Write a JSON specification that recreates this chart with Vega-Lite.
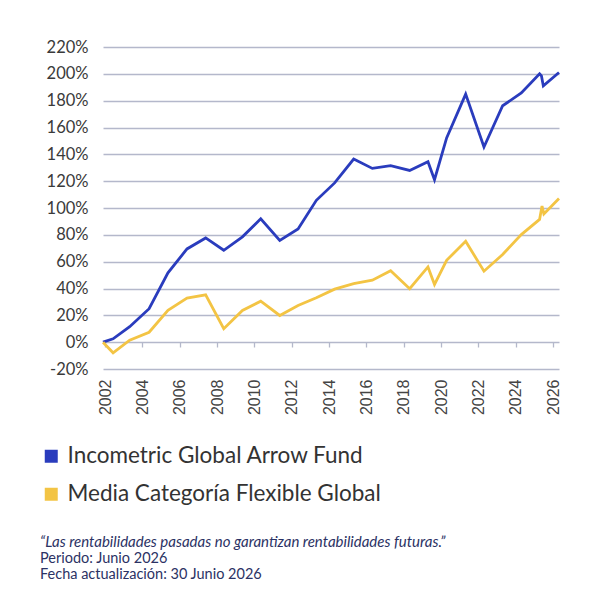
{
  "$schema": "https://vega.github.io/schema/vega-lite/v6.json",
  "description": "Rentabilidad acumulada: Incometric Global Arrow Fund frente a la media de su categoría",
  "autosize": {"type": "none"},
  "padding": {"left": 103, "top": 47, "right": 51, "bottom": 241},
  "width": 456,
  "height": 322,
  "background": "white",
  "data": {
    "values": [
      {"serie": "Incometric Global Arrow Fund", "year": 2001.89, "value": 0},
      {"serie": "Incometric Global Arrow Fund", "year": 2002.43, "value": 2.5},
      {"serie": "Incometric Global Arrow Fund", "year": 2003.32, "value": 11.5},
      {"serie": "Incometric Global Arrow Fund", "year": 2004.36, "value": 24.9},
      {"serie": "Incometric Global Arrow Fund", "year": 2005.37, "value": 51.7},
      {"serie": "Incometric Global Arrow Fund", "year": 2006.39, "value": 69.5},
      {"serie": "Incometric Global Arrow Fund", "year": 2007.39, "value": 77.7},
      {"serie": "Incometric Global Arrow Fund", "year": 2008.36, "value": 68.5},
      {"serie": "Incometric Global Arrow Fund", "year": 2009.36, "value": 78.5},
      {"serie": "Incometric Global Arrow Fund", "year": 2010.34, "value": 91.9},
      {"serie": "Incometric Global Arrow Fund", "year": 2011.36, "value": 75.9},
      {"serie": "Incometric Global Arrow Fund", "year": 2012.34, "value": 84.4},
      {"serie": "Incometric Global Arrow Fund", "year": 2013.32, "value": 105.7},
      {"serie": "Incometric Global Arrow Fund", "year": 2014.30, "value": 118.7},
      {"serie": "Incometric Global Arrow Fund", "year": 2015.32, "value": 136.5},
      {"serie": "Incometric Global Arrow Fund", "year": 2016.32, "value": 129.5},
      {"serie": "Incometric Global Arrow Fund", "year": 2017.30, "value": 131.5},
      {"serie": "Incometric Global Arrow Fund", "year": 2018.32, "value": 128},
      {"serie": "Incometric Global Arrow Fund", "year": 2019.30, "value": 134.5},
      {"serie": "Incometric Global Arrow Fund", "year": 2019.65, "value": 121.1},
      {"serie": "Incometric Global Arrow Fund", "year": 2020.30, "value": 152.2},
      {"serie": "Incometric Global Arrow Fund", "year": 2021.32, "value": 184.9},
      {"serie": "Incometric Global Arrow Fund", "year": 2022.30, "value": 145.5},
      {"serie": "Incometric Global Arrow Fund", "year": 2023.30, "value": 176.2},
      {"serie": "Incometric Global Arrow Fund", "year": 2024.30, "value": 185.7},
      {"serie": "Incometric Global Arrow Fund", "year": 2025.28, "value": 200},
      {"serie": "Incometric Global Arrow Fund", "year": 2025.38, "value": 198.5},
      {"serie": "Incometric Global Arrow Fund", "year": 2025.48, "value": 191},
      {"serie": "Incometric Global Arrow Fund", "year": 2026.32, "value": 201},
      {"serie": "Media Categoría Flexible Global", "year": 2001.89, "value": 0},
      {"serie": "Media Categoría Flexible Global", "year": 2002.43, "value": -7.9},
      {"serie": "Media Categoría Flexible Global", "year": 2003.32, "value": 1.5},
      {"serie": "Media Categoría Flexible Global", "year": 2004.36, "value": 7.4},
      {"serie": "Media Categoría Flexible Global", "year": 2005.37, "value": 23.8},
      {"serie": "Media Categoría Flexible Global", "year": 2006.39, "value": 32.8},
      {"serie": "Media Categoría Flexible Global", "year": 2007.39, "value": 35.3},
      {"serie": "Media Categoría Flexible Global", "year": 2008.36, "value": 10.0},
      {"serie": "Media Categoría Flexible Global", "year": 2009.36, "value": 23.6},
      {"serie": "Media Categoría Flexible Global", "year": 2010.34, "value": 30.5},
      {"serie": "Media Categoría Flexible Global", "year": 2011.36, "value": 19.9},
      {"serie": "Media Categoría Flexible Global", "year": 2012.34, "value": 27.3},
      {"serie": "Media Categoría Flexible Global", "year": 2013.32, "value": 33.1},
      {"serie": "Media Categoría Flexible Global", "year": 2014.30, "value": 39.5},
      {"serie": "Media Categoría Flexible Global", "year": 2015.32, "value": 43.7},
      {"serie": "Media Categoría Flexible Global", "year": 2016.32, "value": 46.2},
      {"serie": "Media Categoría Flexible Global", "year": 2017.30, "value": 53.2},
      {"serie": "Media Categoría Flexible Global", "year": 2018.32, "value": 39.8},
      {"serie": "Media Categoría Flexible Global", "year": 2019.30, "value": 56.1},
      {"serie": "Media Categoría Flexible Global", "year": 2019.65, "value": 43.0},
      {"serie": "Media Categoría Flexible Global", "year": 2020.30, "value": 61},
      {"serie": "Media Categoría Flexible Global", "year": 2021.32, "value": 75.2},
      {"serie": "Media Categoría Flexible Global", "year": 2022.30, "value": 52.9},
      {"serie": "Media Categoría Flexible Global", "year": 2023.30, "value": 65.3},
      {"serie": "Media Categoría Flexible Global", "year": 2024.30, "value": 80.2},
      {"serie": "Media Categoría Flexible Global", "year": 2025.28, "value": 91.5},
      {"serie": "Media Categoría Flexible Global", "year": 2025.41, "value": 101.5},
      {"serie": "Media Categoría Flexible Global", "year": 2025.51, "value": 95.6},
      {"serie": "Media Categoría Flexible Global", "year": 2026.32, "value": 107}
    ]
  },
  "title": {
    "text": "“Las rentabilidades pasadas no garantizan rentabilidades futuras.”",
    "subtitle": ["Periodo: Junio 2026", "Fecha actualización: 30 Junio 2026"],
    "orient": "bottom",
    "anchor": "start",
    "frame": "group",
    "dx": -63,
    "offset": 29,
    "font": "Lato",
    "fontStyle": "italic",
    "fontWeight": "normal",
    "fontSize": 15,
    "color": "#2b3264",
    "subtitleFont": "Lato",
    "subtitleFontSize": 14.5,
    "subtitleColor": "#2b3264",
    "subtitleLineHeight": 16,
    "subtitlePadding": 2
  },
  "mark": {"type": "line", "strokeWidth": 2.8, "strokeJoin": "miter", "clip": false},
  "encoding": {
    "x": {
      "field": "year",
      "type": "quantitative",
      "scale": {"domain": [2001.89, 2026.32], "nice": false, "zero": false},
      "axis": {
        "title": null,
        "values": [2002, 2004, 2006, 2008, 2010, 2012, 2014, 2016, 2018, 2020, 2022, 2024, 2026],
        "format": "d",
        "grid": false,
        "domain": false,
        "ticks": true,
        "tickSize": 5,
        "tickWidth": 1.3,
        "tickColor": "#b4b8cb",
        "offset": -27,
        "labelAngle": -90,
        "labelPadding": 32,
        "labelFont": "Liberation Sans",
        "labelFontSize": 16,
        "labelColor": "#444444"
      }
    },
    "y": {
      "field": "value",
      "type": "quantitative",
      "scale": {"domain": [-20, 220], "nice": false},
      "axis": {
        "title": null,
        "values": [-20, 0, 20, 40, 60, 80, 100, 120, 140, 160, 180, 200, 220],
        "labelExpr": "datum.value + '%'",
        "grid": true,
        "gridColor": "#b4b8cb",
        "gridWidth": 1.3,
        "domain": false,
        "ticks": false,
        "labelPadding": 15,
        "labelFont": "Lato",
        "labelFontSize": 16.5,
        "labelColor": "#3a3a3a"
      }
    },
    "color": {
      "field": "serie",
      "type": "nominal",
      "scale": {
        "domain": ["Incometric Global Arrow Fund", "Media Categoría Flexible Global"],
        "range": ["#2a3cbd", "#f3c444"]
      },
      "legend": {
        "title": null,
        "orient": "none",
        "legendX": -63,
        "legendY": 398,
        "direction": "vertical",
        "symbolType": "square",
        "symbolSize": 169,
        "symbolStrokeWidth": 0,
        "symbolOpacity": 1,
        "labelFont": "Lato",
        "labelFontSize": 22.5,
        "labelColor": "#333333",
        "labelOffset": 5,
        "rowPadding": 15,
        "labelLimit": 500,
        "encode": {
          "symbols": {
            "update": {
              "fill": {"scale": "color", "field": "value"},
              "fillOpacity": {"value": 1},
              "strokeWidth": {"value": 0}
            }
          }
        }
      }
    }
  },
  "config": {
    "view": {"stroke": null}
  }
}
